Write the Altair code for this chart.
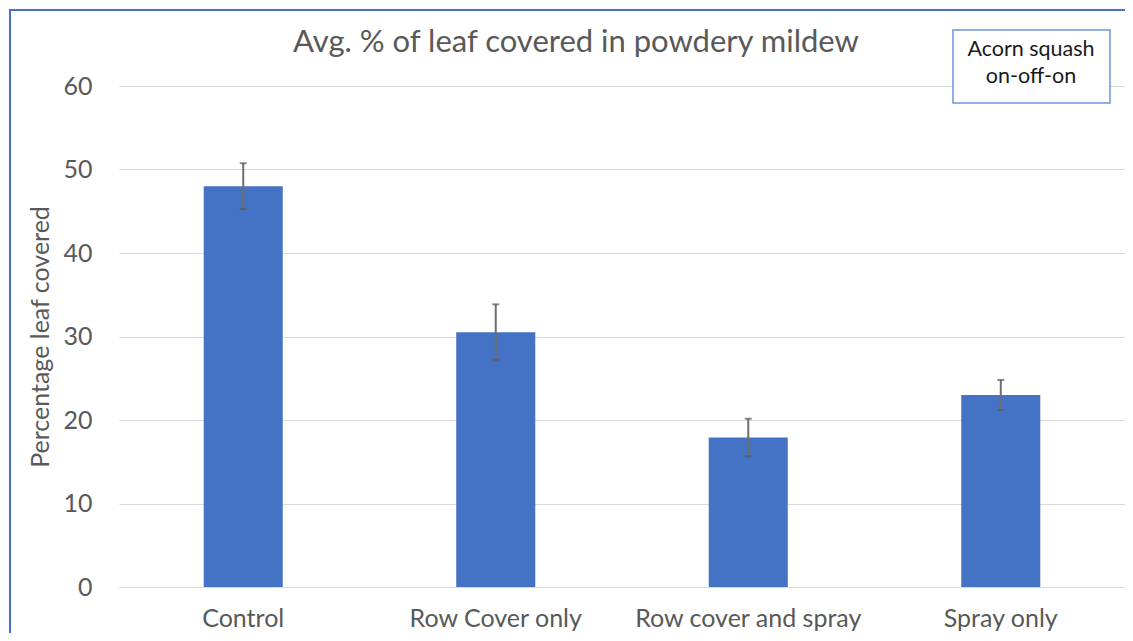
import altair as alt
import pandas as pd

categories = ["Control", "Row Cover only", "Row cover and spray", "Spray only"]
means = [48.0, 30.5, 17.9, 23.0]
errors = [2.75, 3.35, 2.25, 1.8]
y_ticks = [0, 10, 20, 30, 40, 50, 60]

title_text = "Avg. % of leaf covered in powdery mildew"
note_line1 = "Acorn squash"
note_line2 = "on-off-on"

FONT = "Lato"
GRAY = "#595959"
BLUE = "#4472C4"

df = pd.DataFrame({"category": categories, "mean": means, "err": errors})
df["lo"] = df["mean"] - df["err"]
df["hi"] = df["mean"] + df["err"]

W, H = 1006, 501

x_enc = alt.X(
    "category:N",
    sort=categories,
    title=None,
    scale=alt.Scale(paddingInner=0.687, paddingOuter=0.3355),
    axis=alt.Axis(
        labelAngle=0, labelFontSize=25, labelColor=GRAY, labelFont=FONT,
        ticks=False, domainColor="#D9D9D9", domainWidth=1, labelPadding=39,
        labelBaseline="alphabetic", labelLimit=0,
    ),
)

y_scale = alt.Scale(domain=[0, 60])

base = alt.Chart(df)

bars = base.mark_bar(color=BLUE).encode(
    x=x_enc,
    y=alt.Y(
        "mean:Q",
        scale=y_scale,
        axis=alt.Axis(
            values=y_ticks, title="Percentage leaf covered", titleFont=FONT,
            titleFontSize=25, titleFontWeight="normal", titleColor=GRAY,
            labelFont=FONT, labelFontSize=25, labelColor=GRAY,
            gridColor="#D9D9D9", domain=False, ticks=False, labelPadding=27,
            titlePadding=9,
        ),
    ),
)

err_rule = base.mark_rule(color="#6E6E6E", strokeWidth=2).encode(
    x=alt.X("category:N", sort=categories),
    y=alt.Y("lo:Q", scale=y_scale),
    y2="hi:Q",
)
cap_hi = base.mark_tick(color="#595959", thickness=2, size=7).encode(
    x=alt.X("category:N", sort=categories), y=alt.Y("hi:Q", scale=y_scale)
)
cap_lo = base.mark_tick(color="#595959", thickness=2, size=7).encode(
    x=alt.X("category:N", sort=categories), y=alt.Y("lo:Q", scale=y_scale)
)

one = alt.Chart(pd.DataFrame({"t": [title_text], "n1": [note_line1], "n2": [note_line2]}))

title = one.mark_text(
    font=FONT, fontSize=31, color=GRAY, align="center", baseline="middle"
).encode(text="t:N", x=alt.value(457), y=alt.value(-43))

border_left = one.mark_rule(color=BLUE, strokeWidth=2).encode(
    x=alt.value(-109), y=alt.value(-77), y2=alt.value(560)
)
border_top = one.mark_rule(color=BLUE, strokeWidth=2).encode(
    x=alt.value(-110), x2=alt.value(W + 10), y=alt.value(-76)
)

note_box = one.mark_rect(fill="white", stroke="#7094D6", strokeWidth=1.5).encode(
    x=alt.value(834), x2=alt.value(991), y=alt.value(-56), y2=alt.value(17)
)
note_t1 = one.mark_text(
    font=FONT, fontSize=21.5, color="#1a1a1a", align="center", baseline="middle"
).encode(text="n1:N", x=alt.value(912), y=alt.value(-36))
note_t2 = one.mark_text(
    font=FONT, fontSize=21.5, color="#1a1a1a", align="center", baseline="middle"
).encode(text="n2:N", x=alt.value(912), y=alt.value(-9))

chart = alt.layer(
    bars, err_rule, cap_hi, cap_lo, title, border_left, border_top,
    note_box, note_t1, note_t2
).properties(
    width=W, height=H,
    autosize=alt.AutoSizeParams(type="none"),
    padding={"left": 111, "top": 78, "right": 0, "bottom": 46},
    background="white",
).configure_view(stroke=None)

chart.save("out.html", embed_options={"renderer": "svg", "actions": False})
